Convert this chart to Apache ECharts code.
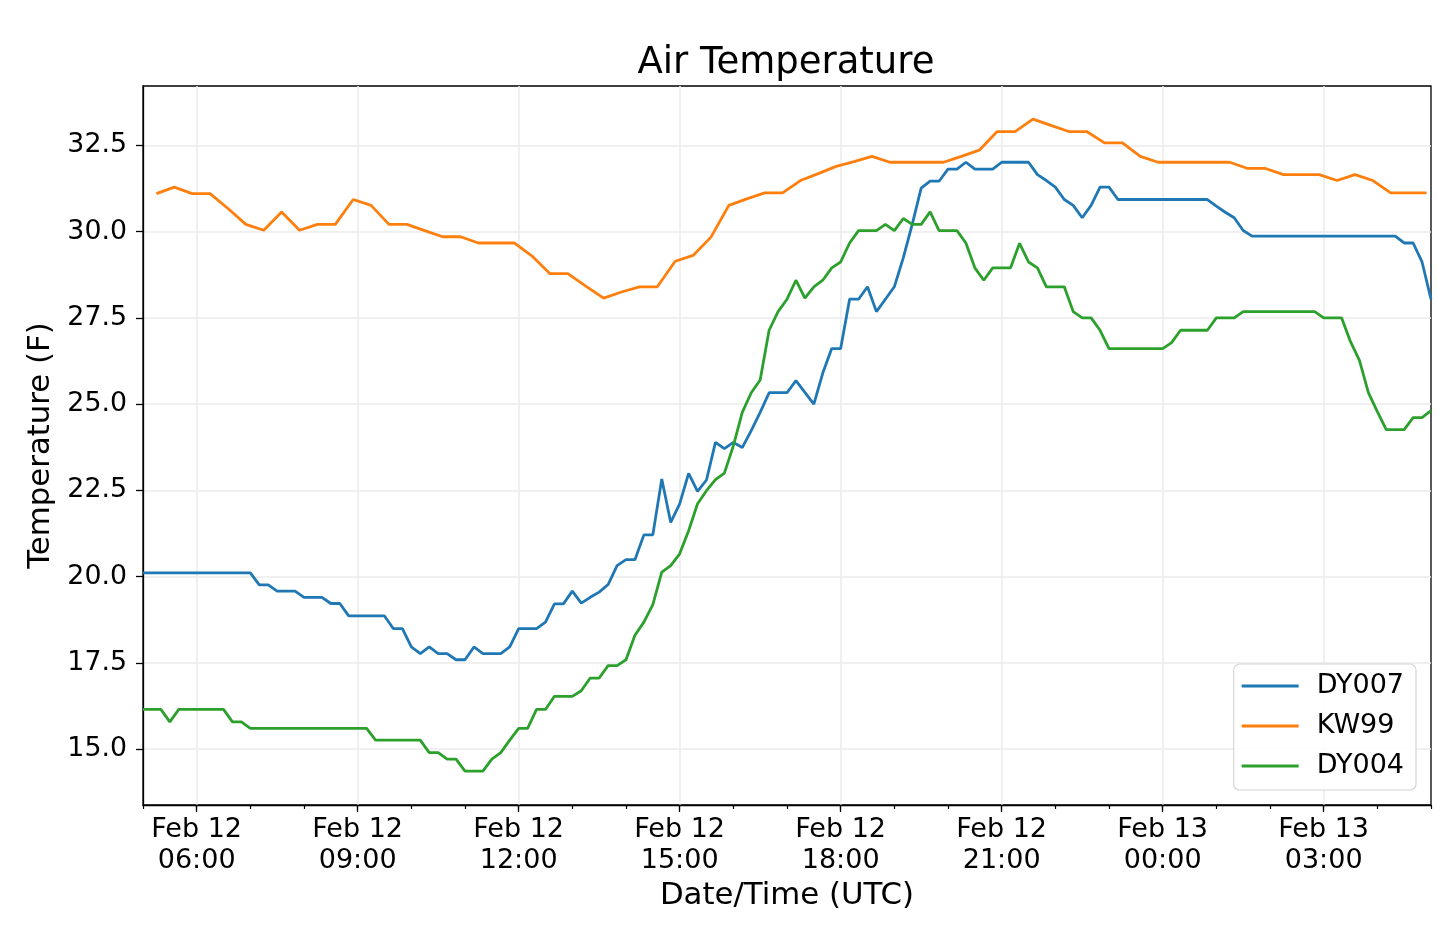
<!DOCTYPE html>
<html>
<head>
<meta charset="utf-8">
<title>Air Temperature</title>
<script src="https://cdn.jsdelivr.net/npm/echarts@6/dist/echarts.min.js"></script>
<style>
html, body { margin: 0; padding: 0; background: #fff; }
#chart { width: 1437px; height: 931px; }
</style>
</head>
<body>
<div id="chart"></div>
<script>
// hours counted from Feb 12 00:00 UTC
var startHour = 5;
var endHour = 29;

// DY007 / DY004: every 10 min from 05:00
var dy007 = [
	20.11, 20.11, 20.11, 20.11, 20.11, 20.11,
	20.11, 20.11, 20.11, 20.11, 20.11, 20.11,
	20.11, 19.76, 19.76, 19.58, 19.58, 19.58,
	19.40, 19.40, 19.40, 19.22, 19.22, 18.86,
	18.86, 18.86, 18.86, 18.86, 18.49, 18.49,
	17.96, 17.77, 17.96, 17.77, 17.77, 17.59,
	17.59, 17.96, 17.77, 17.77, 17.77, 17.96,
	18.49, 18.49, 18.49, 18.68, 19.21, 19.21,
	19.58, 19.23, 19.40, 19.55, 19.77, 20.32,
	20.49, 20.49, 21.21, 21.21, 22.83, 21.57,
	22.11, 22.99, 22.47, 22.80, 23.89, 23.71,
	23.89, 23.74, 24.23, 24.76, 25.33, 25.33,
	25.33, 25.68, 25.34, 25.00, 25.90, 26.61,
	26.61, 28.04, 28.04, 28.40, 27.68, 28.04,
	28.40, 29.24, 30.21, 31.26, 31.46, 31.46,
	31.81, 31.81, 32.01, 31.81, 31.81, 31.81,
	32.01, 32.01, 32.01, 32.01, 31.65, 31.48,
	31.29, 30.93, 30.76, 30.40, 30.76, 31.29,
	31.29, 30.93, 30.93, 30.93, 30.93, 30.93,
	30.93, 30.93, 30.93, 30.93, 30.93, 30.93,
	30.74, 30.56, 30.40, 30.03, 29.87, 29.87,
	29.87, 29.87, 29.87, 29.87, 29.87, 29.87,
	29.87, 29.87, 29.87, 29.87, 29.87, 29.87,
	29.87, 29.87, 29.87, 29.67, 29.67, 29.12,
	28.04
];
var dy004 = [
	16.15, 16.15, 16.15, 15.79, 16.15, 16.15,
	16.15, 16.15, 16.15, 16.15, 15.79, 15.79,
	15.60, 15.60, 15.60, 15.60, 15.60, 15.60,
	15.60, 15.60, 15.60, 15.60, 15.60, 15.60,
	15.60, 15.60, 15.26, 15.26, 15.26, 15.26,
	15.26, 15.26, 14.90, 14.90, 14.71, 14.71,
	14.36, 14.36, 14.36, 14.71, 14.90, 15.26,
	15.60, 15.60, 16.15, 16.15, 16.53, 16.53,
	16.53, 16.69, 17.06, 17.06, 17.42, 17.42,
	17.59, 18.30, 18.68, 19.19, 20.13, 20.32,
	20.66, 21.33, 22.11, 22.49, 22.81, 23.00,
	23.79, 24.76, 25.33, 25.70, 27.14, 27.68,
	28.04, 28.59, 28.07, 28.40, 28.59, 28.95,
	29.12, 29.67, 30.03, 30.03, 30.03, 30.21,
	30.03, 30.38, 30.21, 30.21, 30.57, 30.03,
	30.03, 30.03, 29.67, 28.95, 28.59, 28.95,
	28.95, 28.95, 29.66, 29.12, 28.95, 28.40,
	28.40, 28.40, 27.68, 27.50, 27.50, 27.14,
	26.61, 26.61, 26.61, 26.61, 26.61, 26.61,
	26.61, 26.78, 27.14, 27.14, 27.14, 27.14,
	27.50, 27.50, 27.50, 27.68, 27.68, 27.68,
	27.68, 27.68, 27.68, 27.68, 27.68, 27.68,
	27.50, 27.50, 27.50, 26.81, 26.27, 25.33,
	24.78, 24.26, 24.26, 24.26, 24.61, 24.61,
	24.81
];
// KW99: every 20 min from 05:15
var kw99 = [
	31.10, 31.29, 31.10,
	31.10, 30.67, 30.21,
	30.04, 30.57, 30.04,
	30.21, 30.21, 30.93,
	30.76, 30.21, 30.21,
	30.03, 29.85, 29.85,
	29.67, 29.67, 29.67,
	29.29, 28.78, 28.78,
	28.42, 28.07, 28.25,
	28.40, 28.40, 29.14,
	29.31, 29.84, 30.76,
	30.95, 31.12, 31.12,
	31.48, 31.68, 31.89,
	32.03, 32.18, 32.01,
	32.01, 32.01, 32.01,
	32.18, 32.36, 32.90,
	32.90, 33.26, 33.08,
	32.90, 32.90, 32.57,
	32.57, 32.18, 32.01,
	32.01, 32.01, 32.01,
	32.01, 31.83, 31.83,
	31.65, 31.65, 31.65,
	31.48, 31.65, 31.48,
	31.12, 31.12, 31.12
];

var tickHours = [6, 9, 12, 15, 18, 21, 24, 27];
var tickLabels = ['Feb 12\n06:00', 'Feb 12\n09:00', 'Feb 12\n12:00', 'Feb 12\n15:00',
	'Feb 12\n18:00', 'Feb 12\n21:00', 'Feb 13\n00:00', 'Feb 13\n03:00'];
var yTicks = [15, 17.5, 20, 22.5, 25, 27.5, 30, 32.5];

function pairs(vals, t0, stepMin) {
	return vals.map(function (v, i) { return [t0 + i * stepMin / 60, v]; });
}

var font = 'DejaVu Sans';
var dom = document.getElementById('chart');
var myChart = echarts.init(dom);

var option = {
	animation: false,
	backgroundColor: '#fff',
	title: {
		text: 'Air Temperature',
		left: 781,
		top: 40,
		textAlign: 'center',
		textStyle: { fontFamily: font, fontSize: 37, fontWeight: 'normal', color: '#000' }
	},
	legend: {
		orient: 'vertical',
		right: 21,
		bottom: 141,
		padding: [7, 12, 9, 8],
		itemGap: 10,
		itemWidth: 57,
		itemHeight: 2.8,
		icon: 'rect',
		backgroundColor: 'rgba(255,255,255,0.85)',
		borderColor: '#d6d6d6',
		borderWidth: 1.2,
		borderRadius: 6,
		textStyle: { fontFamily: font, fontSize: 27, lineHeight: 30, color: '#000', padding: [0, 0, 0, 13] },
		data: ['DY007', 'KW99', 'DY004']
	},
	grid: {
		left: 143, right: 6, top: 86, bottom: 126,
		show: true, borderColor: '#000', borderWidth: 1.3, backgroundColor: 'transparent'
	},
	xAxis: [{
		type: 'value',
		min: startHour,
		max: endHour,
		name: 'Date/Time (UTC)',
		nameLocation: 'middle',
		nameGap: 70,
		nameTextStyle: { fontFamily: font, fontSize: 30.8, color: '#000' },
		axisLine: { show: true, lineStyle: { color: '#000', width: 1.3 } },
		axisTick: { show: true, length: 7, customValues: tickHours, lineStyle: { color: '#000', width: 1.3 } },
		axisLabel: {
			customValues: tickHours,
			margin: 9,
			fontFamily: font, fontSize: 27, lineHeight: 31, color: '#000',
			formatter: function (v) {
				var i = tickHours.indexOf(Math.round(v));
				return i < 0 ? '' : tickLabels[i];
			}
		},
		splitLine: { show: true, lineStyle: { color: '#ebebeb', width: 1.5 } }
	}, {
		// hourly minor ticks
		type: 'value',
		position: 'bottom',
		min: startHour,
		max: endHour,
		interval: 1,
		axisLine: { show: false },
		axisTick: { show: true, length: 4, lineStyle: { color: '#000', width: 1.2 } },
		axisLabel: { show: false },
		splitLine: { show: false }
	}],
	yAxis: {
		type: 'value',
		min: 13.38,
		max: 34.22,
		name: 'Temperature (F)',
		nameLocation: 'middle',
		nameGap: 80,
		nameTextStyle: { fontFamily: font, fontSize: 30.8, color: '#000' },
		axisLine: { show: true, lineStyle: { color: '#000', width: 1.3 } },
		axisTick: { show: true, length: 7, customValues: yTicks, lineStyle: { color: '#000', width: 1.3 } },
		axisLabel: {
			customValues: yTicks,
			margin: 16,
			fontFamily: font, fontSize: 26.8, color: '#000',
			formatter: function (v) { return v.toFixed(1); }
		},
		splitLine: { show: true, lineStyle: { color: '#ebebeb', width: 1.5 } }
	},
	series: [{
		name: 'DY007', type: 'line', xAxisIndex: 0,
		data: pairs(dy007, startHour, 10),
		showSymbol: false, symbol: 'none',
		color: '#1f77b4', lineStyle: { width: 2.8 }
	}, {
		name: 'KW99', type: 'line', xAxisIndex: 0,
		data: pairs(kw99, startHour + 0.25, 20),
		showSymbol: false, symbol: 'none',
		color: '#ff7f0e', lineStyle: { width: 2.8 }
	}, {
		name: 'DY004', type: 'line', xAxisIndex: 0,
		data: pairs(dy004, startHour, 10),
		showSymbol: false, symbol: 'none',
		color: '#2ca02c', lineStyle: { width: 2.8 }
	}]
};

myChart.setOption(option, true);
window.onresize = function () {
	myChart.resize();
};
</script>
</body>
</html>
